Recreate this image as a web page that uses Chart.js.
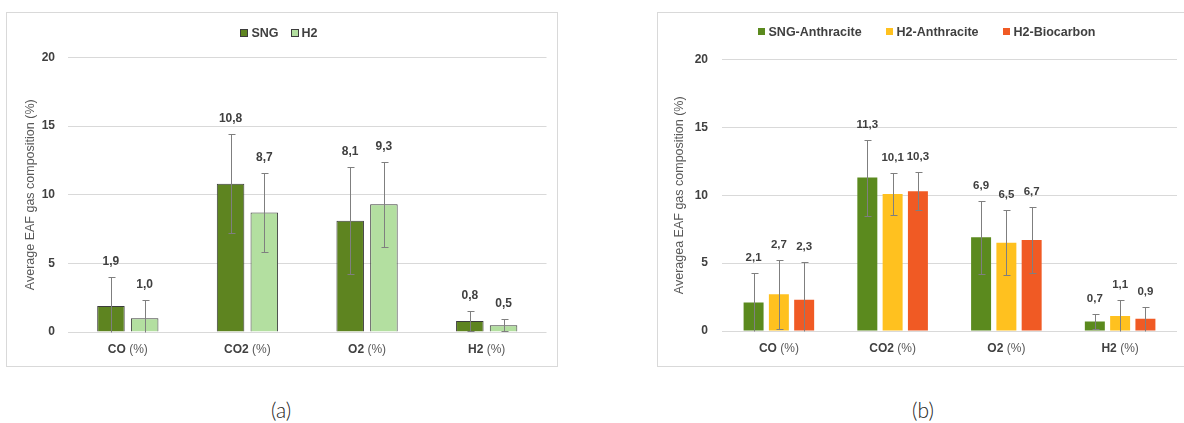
<!DOCTYPE html>
<html>
<head>
<meta charset="utf-8">
<script src="https://cdn.jsdelivr.net/npm/chart.js@4.4.1/dist/chart.umd.min.js"></script>
<style>
  html, body { margin: 0; padding: 0; background: #fff; }
  body { width: 1184px; height: 423px; position: relative; overflow: hidden; }
  .panel { position: absolute; top: 12px; border: 1px solid #d9d9d9; background: #fff; }
  #panelA { left: 6px; width: 550px; height: 353px; }
  #panelB { left: 657px; width: 526px; height: 353px; }
  .panel canvas { display: block; }
  .caption { position: absolute; top: 397px; width: 60px; margin-left: -30px; text-align: center;
             font: 300 21px 'Lato', 'Open Sans', 'Liberation Sans', sans-serif; color: #222; line-height: 26px; }
</style>
</head>
<body>
<div class="panel" id="panelA"><canvas id="chartA" width="550" height="353"></canvas></div>
<div class="panel" id="panelB"><canvas id="chartB" width="526" height="353"></canvas></div>
<div class="caption" style="left:281px">(a)</div>
<div class="caption" style="left:923px">(b)</div>

<script>
// Gas species on the x axis and the y axis ticks
const categories = ['CO (%)', 'CO2 (%)', 'O2 (%)', 'H2 (%)'];
const yTicks = [0, 5, 10, 15, 20];

// Panel (a): mean EAF off-gas composition and standard deviation
const sngMean = [1.9, 10.8, 8.1, 0.8];
const sngSd = [2.1, 3.6, 3.9, 0.75];
const h2Mean = [1.0, 8.7, 9.3, 0.5];
const h2Sd = [1.3, 2.85, 3.1, 0.45];

// Panel (b): by fuel / carbon source
const sngAnthraciteMean = [2.1, 11.3, 6.9, 0.7];
const sngAnthraciteSd = [2.2, 2.8, 2.7, 0.55];
const h2AnthraciteMean = [2.7, 10.1, 6.5, 1.1];
const h2AnthraciteSd = [2.55, 1.55, 2.4, 1.15];
const h2BiocarbonMean = [2.3, 10.3, 6.7, 0.9];
const h2BiocarbonSd = [2.8, 1.4, 2.45, 0.9];

const FAMILY = "'Liberation Sans', Arial, sans-serif";
const fmt = v => v.toFixed(1).replace('.', ',');

// Whiskers (mean ± sd, floored at zero) plus the value printed above each whisker
const errorBars = {
  id: 'errorBars',
  afterDatasetsDraw(chart, args, o) {
    const { ctx } = chart;
    const ys = chart.scales.y;
    ctx.save();
    chart.data.datasets.forEach((ds, di) => {
      const meta = chart.getDatasetMeta(di);
      meta.data.forEach((bar, i) => {
        const v = ds.data[i];
        const e = ds.spread[i];
        const lo = v - e;
        const x = Math.round(bar.x) + 0.5;
        const yt = Math.round(ys.getPixelForValue(v + e)) + 0.5;
        const yb = Math.round(ys.getPixelForValue(Math.max(lo, 0))) + 0.5;
        ctx.strokeStyle = o.lineColor;
        ctx.lineWidth = 1;
        ctx.beginPath();
        ctx.moveTo(x, yt); ctx.lineTo(x, yb);
        ctx.moveTo(x - o.cap, yt); ctx.lineTo(x + o.cap + 1, yt);
        if (lo > 0) { ctx.moveTo(x - o.cap, yb); ctx.lineTo(x + o.cap + 1, yb); }
        ctx.stroke();
        ctx.fillStyle = o.textColor;
        ctx.font = o.textFont;
        ctx.textAlign = 'center';
        ctx.textBaseline = 'middle';
        ctx.fillText(fmt(v), bar.x, yt - o.lift);
      });
    });
    ctx.restore();
  }
};

// Single-row key above the plot
const keyRow = {
  id: 'keyRow',
  afterDraw(chart, args, o) {
    const { ctx } = chart;
    ctx.save();
    ctx.font = o.textFont;
    const items = chart.data.datasets.map(ds => ({
      text: ds.label, fill: ds.backgroundColor, w: ctx.measureText(ds.label).width
    }));
    const total = items.reduce((s, it) => s + o.box + o.gap + it.w, 0) + o.itemGap * (items.length - 1);
    let x = o.cx - total / 2;
    items.forEach(it => {
      const top = Math.round(o.y - o.box / 2);
      ctx.fillStyle = it.fill;
      ctx.fillRect(Math.round(x), top, o.box, o.box);
      if (o.stroke) {
        ctx.strokeStyle = o.stroke;
        ctx.lineWidth = 1;
        ctx.strokeRect(Math.round(x) + 0.5, top + 0.5, o.box - 1, o.box - 1);
      }
      x += o.box + o.gap;
      ctx.fillStyle = o.textColor;
      ctx.textAlign = 'left';
      ctx.textBaseline = 'middle';
      ctx.fillText(it.text, x, o.y + 0.5);
      x += it.w + o.itemGap;
    });
    ctx.restore();
  }
};

// Category names: species in bold, unit in regular weight
const catLabels = {
  id: 'catLabels',
  afterDraw(chart, args, o) {
    const { ctx, chartArea } = chart;
    const xs = chart.scales.x;
    ctx.save();
    ctx.textBaseline = 'middle';
    ctx.textAlign = 'left';
    chart.data.labels.forEach((lab, i) => {
      const cut = lab.indexOf(' (');
      const head = lab.slice(0, cut);
      const tail = lab.slice(cut);
      ctx.font = o.headFont; const w1 = ctx.measureText(head).width;
      ctx.font = o.tailFont; const w2 = ctx.measureText(tail).width;
      const x = xs.getPixelForValue(i) - (w1 + w2) / 2;
      const y = chartArea.bottom + o.gap;
      ctx.font = o.headFont; ctx.fillStyle = o.headColor; ctx.fillText(head, x, y);
      ctx.font = o.tailFont; ctx.fillStyle = o.tailColor; ctx.fillText(tail, x + w1, y);
    });
    ctx.restore();
  }
};

function buildChart(id, datasets, p) {
  return new Chart(document.getElementById(id), {
    type: 'bar',
    data: { labels: categories, datasets },
    plugins: [errorBars, keyRow, catLabels],
    options: {
      responsive: false,
      animation: false,
      devicePixelRatio: 1,
      layout: { padding: { top: p.top, right: p.right, bottom: 0, left: 0 } },
      datasets: { bar: { categoryPercentage: p.catPct, barPercentage: p.barPct } },
      scales: {
        x: {
          grid: { display: false, drawTicks: false },
          border: { display: false },
          ticks: { display: false },
          afterFit(s) { s.height = p.xHeight; }
        },
        y: {
          min: 0, max: 20,
          afterBuildTicks(s) { s.ticks = yTicks.map(v => ({ value: v })); },
          grid: { color: '#d9d9d9', lineWidth: 1, drawTicks: false },
          border: { display: false },
          ticks: { padding: p.tickPad, color: '#404040', font: { family: FAMILY, size: 12, weight: 'bold' } },
          title: {
            display: true, text: p.yTitle, color: '#595959',
            font: { family: FAMILY, size: 12.5, weight: 'normal', lineHeight: 1.2 },
            padding: { top: p.titlePad, bottom: 0 }
          },
          afterFit(s) { s.width = p.yWidth; }
        }
      },
      plugins: {
        legend: { display: false },
        tooltip: { enabled: false },
        errorBars: { lineColor: '#7f7f7f', cap: 3, lift: 16, textColor: '#404040',
                     textFont: 'bold ' + p.valueSize + 'px ' + FAMILY },
        keyRow: { y: p.keyY, cx: p.keyX, box: p.keyBox, gap: p.keyGap, itemGap: p.keyItemGap,
                  stroke: p.keyStroke, textColor: '#404040', textFont: 'bold 12.5px ' + FAMILY },
        catLabels: { gap: 18, headFont: 'bold 12px ' + FAMILY, tailFont: '12px ' + FAMILY,
                     headColor: '#404040', tailColor: '#595959' }
      }
    }
  });
}

buildChart('chartA', [
  { label: 'SNG', data: sngMean, spread: sngSd, backgroundColor: '#5e8420', borderColor: '#3c3c3c', borderWidth: 1 },
  { label: 'H2', data: h2Mean, spread: h2Sd, backgroundColor: '#b3dfa0', borderColor: '#3c3c3c', borderWidth: 1 }
], {
  top: 44.5, right: 10.5, xHeight: 34, yWidth: 61, tickPad: 13, titlePad: 16,
  catPct: 0.564, barPct: 0.816, valueSize: 12,
  yTitle: 'Average EAF gas composition (%)',
  keyY: 20, keyX: 272, keyBox: 8, keyGap: 3, keyItemGap: 12, keyStroke: '#3c3c3c'
});

buildChart('chartB', [
  { label: 'SNG-Anthracite', data: sngAnthraciteMean, spread: sngAnthraciteSd, backgroundColor: '#5b8a1e' },
  { label: 'H2-Anthracite', data: h2AnthraciteMean, spread: h2AnthraciteSd, backgroundColor: '#ffc11f' },
  { label: 'H2-Biocarbon', data: h2BiocarbonMean, spread: h2BiocarbonSd, backgroundColor: '#f05a24' }
], {
  top: 46.5, right: 7, xHeight: 35, yWidth: 64, tickPad: 14, titlePad: 14.5,
  catPct: 0.667, barPct: 0.79, valueSize: 11.5,
  yTitle: 'Averagea EAF gas composition (%)',
  keyY: 18.7, keyX: 268.5, keyBox: 7, keyGap: 4, keyItemGap: 24, keyStroke: null
});
</script>
</body>
</html>
